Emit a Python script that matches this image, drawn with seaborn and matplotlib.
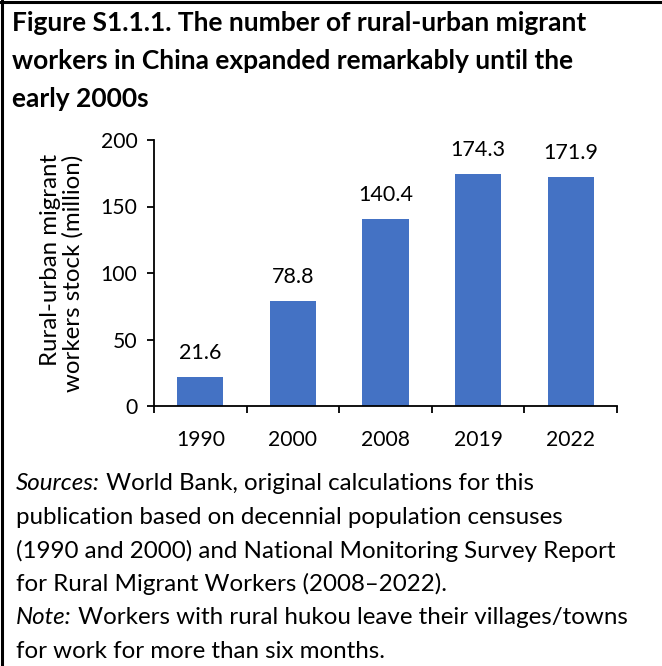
import matplotlib
matplotlib.use("Agg")
import matplotlib.pyplot as plt
import seaborn as sns
import pandas as pd
from matplotlib.lines import Line2D

years = ["1990", "2000", "2008", "2019", "2022"]
workers_million = [21.6, 78.8, 140.4, 174.3, 171.9]
y_ticks = [0, 50, 100, 150, 200]

title_lines = [
    "Figure S1.1.1. The number of rural-urban migrant",
    "workers in China expanded remarkably until the",
    "early 2000s",
]
y_label = "Rural-urban migrant\nworkers stock (million)"
notes = [
    ("Sources:", " World Bank, original calculations for this"),
    (None, "publication based on decennial population censuses"),
    (None, "(1990 and 2000) and National Monitoring Survey Report"),
    (None, "for Rural Migrant Workers (2008\u20132022)."),
    ("Note:", " Workers with rural hukou leave their villages/towns"),
    (None, "for work for more than six months."),
]

BAR_BLUE = "#4472C4"
FONT = "Lato"

sns.set_theme(style="white")
plt.rcParams["font.family"] = [FONT, "DejaVu Sans"]

W, H = 662, 666
fig = plt.figure(figsize=(W / 100, H / 100), dpi=100)
ax = fig.add_axes([154 / W, 1 - 406 / H, (617 - 154) / W, (406 - 140) / H])

df = pd.DataFrame({"year": years, "workers": workers_million})
sns.barplot(data=df, x="year", y="workers", color=BAR_BLUE, saturation=1,
            width=0.5, edgecolor="none", ax=ax)

for i, v in enumerate(workers_million):
    ax.annotate(f"{v:.1f}", (i, v), xytext=(0, 10.5), textcoords="offset points",
                ha="center", va="bottom", fontsize=15.5, color="black")

ax.set_ylim(0, 200)
ax.set_xlim(-0.5, len(years) - 0.5)
ax.set_yticks(y_ticks)
ax.set_yticklabels([str(t) for t in y_ticks])
ax.set_xticks(range(len(years)))
ax.set_xticklabels(years)
ax.set_xticks([i - 0.5 for i in range(len(years) + 1)], minor=True)
ax.tick_params(axis="x", which="major", length=0, pad=17, labelsize=15.2,
               colors="black")
ax.tick_params(axis="x", which="minor", length=5, width=1.3, direction="out",
               bottom=True, color="black")
ax.tick_params(axis="y", which="major", length=5, width=1.3, direction="out",
               left=True, pad=7, labelsize=15.2, colors="black")
for side in ["top", "right"]:
    ax.spines[side].set_visible(False)
for side in ["left", "bottom"]:
    ax.spines[side].set_color("black")
    ax.spines[side].set_linewidth(1.3)
ax.set_xlabel("")
ax.set_ylabel(y_label, fontsize=17.3, color="black", labelpad=12,
              linespacing=1.05, multialignment="right")

# Title block
for k, line in enumerate(title_lines):
    fig.text(12 / W, 1 - (23 + 38 * k) / H, line, fontsize=19, fontweight="bold",
             ha="left", va="center", color="black")

# Source and note block, with italic lead-in words
fig.canvas.draw()
renderer = fig.canvas.get_renderer()
for k, (lead, rest) in enumerate(notes):
    y = 1 - (484 + 33.4 * k) / H
    x = 16 / W
    if lead:
        t = fig.text(x, y, lead, fontsize=17.4, style="italic", ha="left",
                     va="center", color="black")
        bb = t.get_window_extent(renderer)
        x = bb.x1 / W
    fig.text(x, y, rest, fontsize=17.4, ha="left", va="center", color="black")

# Frame lines along the top and left edges
fig.add_artist(Line2D([0, 1], [1 - 1.5 / H, 1 - 1.5 / H], color="black", lw=2.2,
                      transform=fig.transFigure))
fig.add_artist(Line2D([1.5 / W, 1.5 / W], [0, 1], color="black", lw=2.2,
                      transform=fig.transFigure))

fig.savefig("out.png", dpi=100, facecolor="white")
